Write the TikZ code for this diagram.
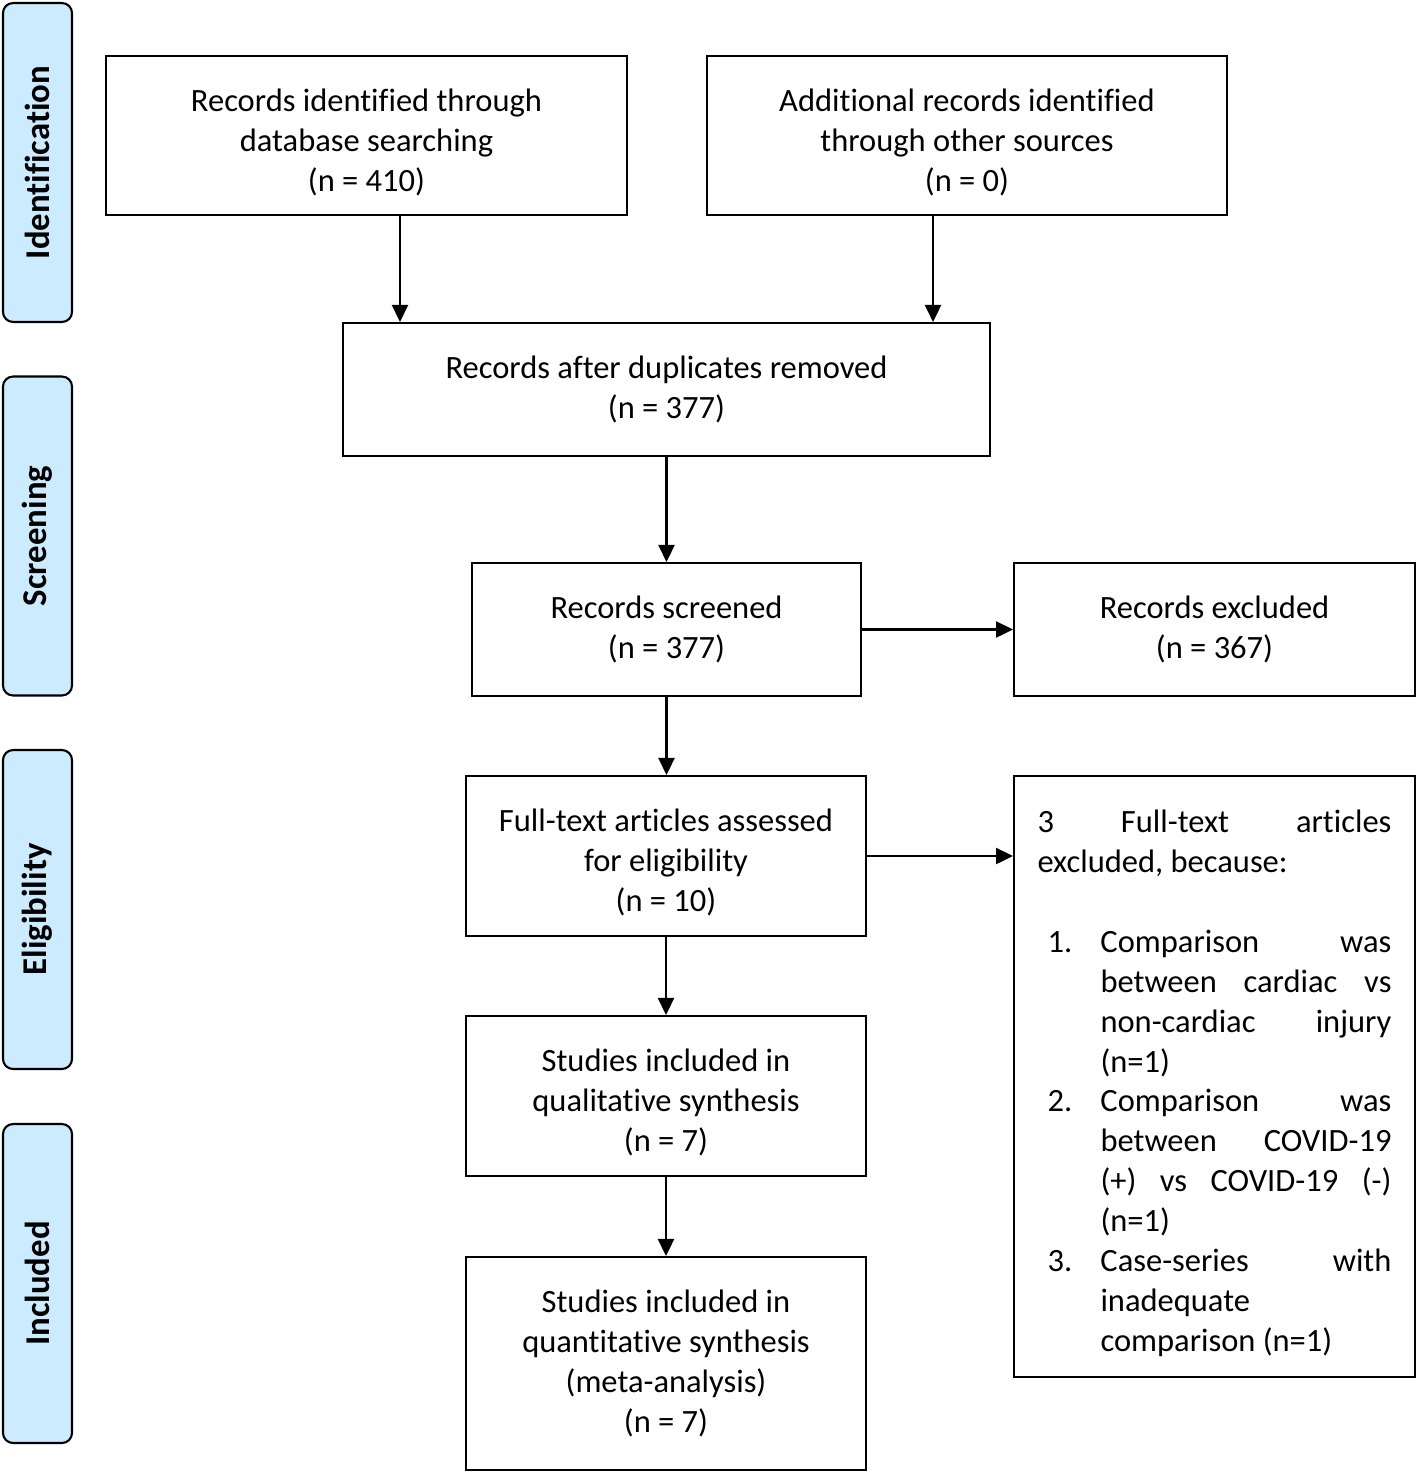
\documentclass[tikz,border=0pt]{standalone}
\usepackage{fontspec}
\setmainfont{Carlito}[Ligatures=NoCommon]
\usetikzlibrary{arrows.meta}
\definecolor{phasefill}{RGB}{205,235,255}

\begin{document}
\begin{tikzpicture}[x=0.02cm, y=-0.02cm,
    box/.style={draw, line width=1.2pt, align=center, inner sep=0pt,
      font=\fontsize{18.5pt}{22.7pt}\selectfont},
    lowbox/.style={box, text width=7.8cm, align=flush center,
      execute at begin node={\rule{0pt}{20.5pt}}},
    phase/.style={draw, line width=1.2pt, fill=phasefill, rounded corners=0.2cm,
      rotate=90, minimum width=6.38cm, minimum height=1.38cm,
      font=\bfseries\fontsize{19.8pt}{22pt}\selectfont},
    arr/.style={line width=1.4pt, -{Triangle[length=0.34cm, width=0.32cm]}}]
  \useasboundingbox (0,0) rectangle (1418,1474);

  % Phase labels on the left
  \node[phase] (ident) at (37.5,162.5) {Identification};
  \node[phase] (screen) at (37.5,536) {Screening};
  \node[phase] (elig) at (37.5,909.5) {Eligibility};
  \node[phase] (incl) at (37.5,1283.5) {Included};

  % Identification
  \node[lowbox, minimum width=10.42cm, minimum height=3.18cm] (db) at (366.5,135.5)
    {Records identified through\\database searching\\(n = 410)};
  \node[lowbox, minimum width=10.4cm, minimum height=3.18cm] (other) at (967,135.5)
    {Additional records identified\\through other sources\\(n = 0)};

  % Screening
  \node[box, minimum width=12.94cm, minimum height=2.66cm] (dedup) at (666.5,389.5)
    {Records after duplicates removed\\(n = 377)};
  \node[box, minimum width=7.78cm, minimum height=2.66cm] (screened) at (666.5,629.5)
    {Records screened\\(n = 377)};
  \node[box, minimum width=8.02cm, minimum height=2.66cm] (excl) at (1214.5,629.5)
    {Records excluded\\(n = 367)};

  % Eligibility
  \node[lowbox, minimum width=8cm, minimum height=3.2cm] (fulltext) at (666,856)
    {Full-text articles assessed\\for eligibility\\(n = 10)};
  \node[lowbox, align=justify, text width=7.08cm, inner xsep=0.47cm,
    minimum height=12.02cm] (reasons) at (1214.5,1076.5)
    {\hbadness=10000
     3 Full-text articles\linebreak excluded, because:\par\vspace{0.8cm}
     \noindent\hangindent=1.26cm\hangafter=1\makebox[1.26cm][l]{\hspace{0.2cm}1.}%
     Comparison was\linebreak between cardiac vs\linebreak non-cardiac injury\linebreak (n=1)\par
     \noindent\hangindent=1.26cm\hangafter=1\makebox[1.26cm][l]{\hspace{0.2cm}2.}%
     Comparison was\linebreak between COVID-19\linebreak (+) vs COVID-19 (-)\linebreak (n=1)\par
     \noindent\hangindent=1.26cm\hangafter=1\makebox[1.26cm][l]{\hspace{0.2cm}3.}%
     Case-series with\linebreak inadequate\newline comparison (n=1)\par};

  % Included
  \node[lowbox, minimum width=8cm, minimum height=3.2cm] (quali) at (666,1096)
    {Studies included in\\qualitative synthesis\\(n = 7)};
  \node[box, minimum width=8cm, minimum height=4.26cm] (quanti) at (666,1363.5)
    {Studies included in\\quantitative synthesis\\(meta-analysis)\\(n = 7)};

  % Arrows
  \draw[arr] ([xshift=0.67cm]db.south) -- ([xshift=0.67cm]db.south |- dedup.north);
  \draw[arr] ([xshift=-0.68cm]other.south) -- ([xshift=-0.68cm]other.south |- dedup.north);
  \draw[arr] (dedup.south) -- (screened.north);
  \draw[arr] (screened.east) -- (excl.west);
  \draw[arr] (screened.south) -- (screened.south |- fulltext.north);
  \draw[arr] (fulltext.east) -- (fulltext.east -| reasons.west);
  \draw[arr] (fulltext.south) -- (quali.north);
  \draw[arr] (quali.south) -- (quanti.north);
\end{tikzpicture}
\end{document}
